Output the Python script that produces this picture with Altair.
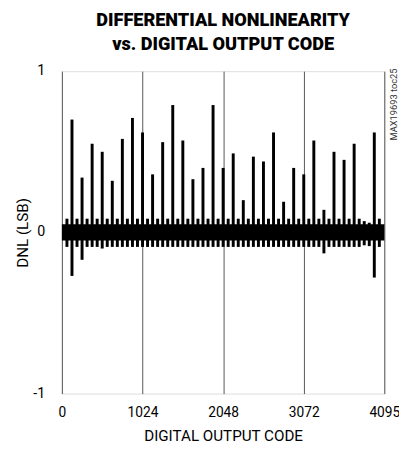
import altair as alt
import pandas as pd

# Large DNL spikes every 128 codes
spike_codes = [128, 256, 384, 512, 640, 768, 896, 1024, 1152, 1280, 1408, 1536, 1664, 1792, 1920,
               2048, 2176, 2304, 2432, 2560, 2688, 2816, 2944, 3072, 3200, 3328, 3456, 3584, 3712, 3968]
spike_top = [0.70, 0.34, 0.55, 0.50, 0.32, 0.58, 0.71, 0.62, 0.36, 0.56, 0.79, 0.57, 0.33, 0.40, 0.79,
             0.40, 0.49, 0.20, 0.47, 0.44, 0.62, 0.19, 0.40, 0.36, 0.57, 0.14, 0.50, 0.45, 0.55, 0.62]
spike_bottom = [-0.27, -0.17, -0.09, -0.10, -0.09, -0.09, -0.09, -0.09, -0.09, -0.09, -0.09, -0.09, -0.09, -0.09, -0.09,
                -0.09, -0.09, -0.09, -0.09, -0.09, -0.09, -0.09, -0.09, -0.09, -0.09, -0.13, -0.09, -0.09, -0.09, -0.28]

# Small bumps of the noise band (between the large spikes)
bump_codes = [64, 192, 320, 448, 576, 704, 832, 960, 1088, 1216, 1344, 1472, 1600, 1728, 1856, 1984,
              2112, 2240, 2368, 2496, 2624, 2752, 2880, 3008, 3136, 3264, 3392, 3520, 3648, 3776, 3840, 3904, 4032]
bump_hi = [0.085, 0.085, 0.085, 0.085, 0.085, 0.085, 0.085, 0.085, 0.085, 0.085, 0.085, 0.085, 0.085, 0.085, 0.085, 0.085,
           0.085, 0.085, 0.085, 0.085, 0.085, 0.085, 0.085, 0.085, 0.085, 0.085, 0.085, 0.085, 0.085, 0.085, 0.07, 0.06, 0.085]
bump_lo = [-0.09, -0.09, -0.09, -0.09, -0.09, -0.09, -0.09, -0.09, -0.09, -0.09, -0.09, -0.09, -0.09, -0.09, -0.09, -0.09,
           -0.09, -0.09, -0.09, -0.09, -0.09, -0.09, -0.09, -0.09, -0.09, -0.09, -0.09, -0.09, -0.09, -0.09, -0.08, -0.085, -0.09]

# Dense noise band envelope
band_codes = [0, 4095]
band_hi = [0.05, 0.05]
band_lo = [-0.05, -0.05]

x_ticks = [0, 1024, 2048, 3072, 4095]
y_ticks = [-1, 0, 1]
y_tick_labels = ["-1", "0", "1"]
note = ["MAX19693 toc25"]

FONT = "Roboto"

spikes = pd.DataFrame({"code": spike_codes, "top": spike_top, "bottom": spike_bottom})
bumps = pd.DataFrame({"code": bump_codes, "hi": bump_hi, "lo": bump_lo})
band = pd.DataFrame({"code": band_codes, "hi": band_hi, "lo": band_lo})
ylab = pd.DataFrame({"v": y_ticks, "t": y_tick_labels})
notes = pd.DataFrame({"t": note})

x_scale = alt.Scale(domain=[0, 4095], nice=False, zero=False)
y_scale = alt.Scale(domain=[-1, 1], nice=False)

x_axis = alt.Axis(values=x_ticks, format="d", title="DIGITAL OUTPUT CODE", grid=True, gridColor="#555555",
                  gridWidth=1, ticks=False, domain=False, labelFont=FONT, labelFontSize=14,
                  labelColor="black", labelPadding=12, titleFont=FONT, titleFontSize=15.5,
                  titleFontWeight="normal", titleColor="black", titlePadding=10, labelFlush=False,
                  labelOverlap=False)
y_axis = alt.Axis(values=y_ticks, title="DNL (LSB)", grid=False, ticks=False, domain=False,
                  labels=False, titleFont=FONT, titleFontSize=15.5, titleFontWeight="normal",
                  titleColor="black", titlePadding=32)

band_layer = alt.Chart(band).mark_area(color="black").encode(
    x=alt.X("code:Q", scale=x_scale, axis=x_axis),
    y=alt.Y("hi:Q", scale=y_scale, axis=y_axis),
    y2="lo:Q",
)
bump_layer = alt.Chart(bumps).mark_rule(color="black", strokeWidth=3).encode(
    x=alt.X("code:Q", scale=x_scale, axis=x_axis),
    y=alt.Y("hi:Q", scale=y_scale, axis=y_axis),
    y2="lo:Q",
)
spike_layer = alt.Chart(spikes).mark_rule(color="black", strokeWidth=3).encode(
    x=alt.X("code:Q", scale=x_scale, axis=x_axis),
    y=alt.Y("top:Q", scale=y_scale, axis=y_axis),
    y2="bottom:Q",
)
ylab_layer = alt.Chart(ylab).mark_text(
    font=FONT, fontSize=14.5, color="black", align="right", baseline="middle", clip=False
).encode(
    x=alt.value(-17),
    y=alt.Y("v:Q", scale=y_scale, axis=y_axis),
    text="t:N",
)
note_layer = alt.Chart(notes).mark_text(
    angle=270, font=FONT, fontSize=9.5, color="#333333", align="center", baseline="middle"
).encode(x=alt.value(338.5), y=alt.value(34), text="t:N")

chart = alt.layer(band_layer, bump_layer, spike_layer, ylab_layer, note_layer).properties(
    width=329,
    height=329,
    title=alt.Title(["DIFFERENTIAL NONLINEARITY", "vs. DIGITAL OUTPUT CODE"], font=FONT,
                    fontSize=18.5, fontWeight=900, color="black", anchor="middle",
                    lineHeight=25, offset=10, frame="group"),
    autosize=alt.AutoSizeParams(type="none"),
    padding={"left": 55, "top": 60, "right": 15, "bottom": 50},
).configure_view(stroke="black", strokeWidth=3).configure(background="white")

chart.save("out.html", embed_options={"renderer": "svg", "actions": False})
